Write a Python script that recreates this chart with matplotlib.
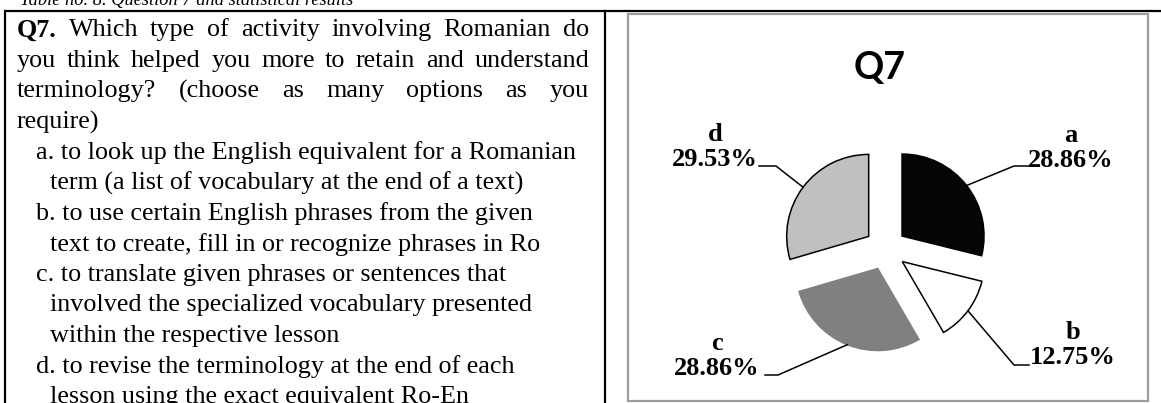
import matplotlib
matplotlib.use('Agg')
import matplotlib.pyplot as plt
import numpy as np

W, H = 1161, 403

# pie data
labels = ['a', 'b', 'c', 'd']
shares = [28.86, 12.75, 28.86, 29.53]
colours = ['#050505', '#ffffff', '#808080', '#c0c0c0']

caption = 'Table no. 8. Question 7 and statistical results'
question_lines = [
    'Q7. Which type of activity involving Romanian do',
    'you think helped you more to retain and understand',
    'terminology? (choose as many options as you',
    'require)',
]
option_lines = [
    ('a. to look up the English equivalent for a Romanian',
     'term (a list of vocabulary at the end of a text)'),
    ('b. to use certain English phrases from the given',
     'text to create, fill in or recognize phrases in Ro'),
    ('c. to translate given phrases or sentences that',
     'involved the specialized vocabulary presented',
     'within the respective lesson'),
    ('d. to revise the terminology at the end of each',
     'lesson using the exact equivalent Ro-En'),
]

serif = 'Liberation Serif'
body_size = 18.8


def Y(y):
    # picture rows run downwards, axes y upwards
    return H - y


fig = plt.figure(figsize=(W / 100, H / 100), dpi=100)
ax = fig.add_axes([0, 0, 1, 1])
renderer = fig.canvas.get_renderer()


def justify(line, y, x0, x1):
    words = line.split(' ')
    texts = []
    for i, w in enumerate(words):
        bold = (i == 0 and w == 'Q7.')
        texts.append(ax.text(0, Y(y), w, family=serif, fontsize=body_size,
                             fontweight='bold' if bold else 'normal',
                             va='center_baseline', ha='left'))
    widths = [t.get_window_extent(renderer).width for t in texts]
    gap = (x1 - x0 - sum(widths)) / (len(words) - 1)
    x = x0
    for t, wd in zip(texts, widths):
        t.set_x(x)
        x += wd + gap


# ---- left cell text
line_h = 30.6
y0 = 27.5
x_left, x_right = 17, 589
row = 0
for i, line in enumerate(question_lines):
    y = y0 + row * line_h
    if i < len(question_lines) - 1:
        justify(line, y, x_left, x_right)
    else:
        ax.text(x_left, Y(y), line, family=serif, fontsize=body_size,
                va='center_baseline', ha='left')
    row += 1

for opt in option_lines:
    for j, line in enumerate(opt):
        y = y0 + row * line_h
        x = 36 if j == 0 else 50
        ax.text(x, Y(y), line, family=serif, fontsize=body_size,
                va='center_baseline', ha='left')
        row += 1

# caption, cut by the top edge
ax.text(20, Y(5), caption, family=serif, fontsize=13.2, style='italic',
        va='baseline', ha='left')

# ---- table borders
ax.plot([4, W], [Y(11), Y(11)], color='black', lw=1.6, solid_capstyle='butt')
ax.plot([5, 5], [Y(11), Y(H + 5)], color='black', lw=1.6)
ax.plot([605, 605], [Y(11), Y(H + 5)], color='black', lw=1.6)

# chart frame
ax.add_patch(plt.Rectangle((628, Y(401)), 1148 - 628, 401 - 14, fill=False,
                           edgecolor='#9c9c9c', lw=1.6))

ax.text(880, Y(68), 'Q7', family='Lato', fontweight='bold', fontsize=27,
        ha='center', va='center')

# ---- pie
cx, cy, R = 885.5, 249, 82
wedges, _ = ax.pie(shares, colors=colours, startangle=90, counterclock=False,
                   center=(cx, Y(cy)), radius=R, explode=[21] * 4, frame=True,
                   wedgeprops=dict(edgecolor='black', linewidth=1.1))
wedges[2].set_edgecolor(colours[2])

# label centre, elbow start x, elbow end x, elbow row
label_layout = {
    'a': ((1071, 148), 1029, 1014, 166),
    'b': ((1073, 345), 1029, 1014, 365),
    'c': ((717, 356), 765, 778, 375),
    'd': ((715, 147), 759, 776, 166),
}

for w, lab, val in zip(wedges, labels, shares):
    (tx, ty), ex0, ex1, ey = label_layout[lab]
    ax.text(tx, Y(ty), '%s\n%.2f%%' % (lab, val), family=serif,
            fontweight='bold', fontsize=19, ha='center', va='center',
            linespacing=1.15)
    th = np.deg2rad((w.theta1 + w.theta2) / 2)
    px = w.center[0] + w.r * np.cos(th)
    py = w.center[1] + w.r * np.sin(th)
    ax.plot([ex0, ex1, px], [Y(ey), Y(ey), py], color='black', lw=1.1)

ax.set_xlim(0, W)
ax.set_ylim(0, H)
ax.set_aspect('auto')
ax.axis('off')

fig.savefig('out.png', dpi=100)
